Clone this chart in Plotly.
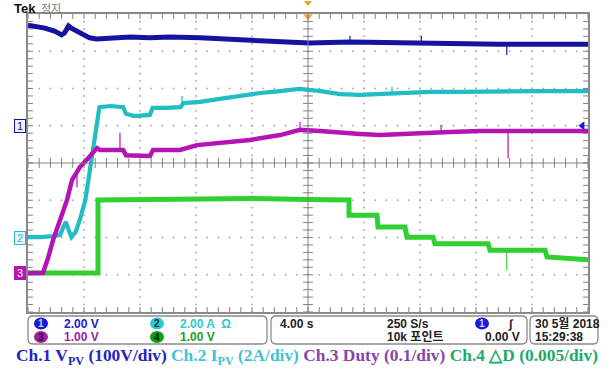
import numpy as np
import plotly.graph_objects as go

W, H = 615, 369

# ---- waveform readings: time in s (4 s/div, 40 s record), level in screen divisions ----
ch1_t = [0, 0.5, 1.2, 1.9, 2.4, 2.6, 2.9, 3.1, 3.7, 4.4, 4.9, 5.9, 7.3, 8.7, 10.1, 12.3, 13.7,
         15.1, 16.6, 18.0, 19.1, 20.1, 23.0, 26.6, 30.1, 33.7, 37.3, 40]
ch1_v = [3.70, 3.68, 3.62, 3.54, 3.44, 3.49, 3.68, 3.62, 3.49, 3.36, 3.33, 3.36, 3.38, 3.36,
         3.38, 3.36, 3.33, 3.30, 3.28, 3.25, 3.22, 3.22, 3.25, 3.22, 3.22, 3.19, 3.19, 3.19]
# glitches: time, trace level, spike tip
ch1_spk_t = [23.0, 28.1, 34.2]
ch1_spk_b = [3.25, 3.22, 3.19]
ch1_spk_v = [3.41, 3.41, 2.90]

ch2_t = [0, 0.9, 1.9, 2.3, 2.5, 2.7, 2.9, 3.1, 3.4, 3.7, 4.1, 4.4, 4.6, 4.9, 5.0, 5.1, 5.9,
         6.8, 7.0, 7.6, 8.7, 8.9, 9.8, 10.9, 11.1, 12.3, 13.7, 15.1, 16.6, 18.0, 19.4, 20.9,
         22.3, 23.7, 25.1, 26.6, 28.7, 30.9, 33.7, 36.6, 40]
ch2_v = [-1.99, -1.99, -1.96, -1.93, -1.74, -1.58, -1.80, -1.99, -1.85, -1.53, -0.99, -0.19,
         0.35, 1.02, 1.42, 1.50, 1.53, 1.50, 1.32, 1.26, 1.29, 1.48, 1.48, 1.50, 1.61, 1.64,
         1.72, 1.80, 1.88, 1.93, 1.99, 1.93, 1.85, 1.83, 1.85, 1.88, 1.91, 1.91, 1.93, 1.93,
         1.93]
ch2_spk_t = [11.0, 26.0]
ch2_spk_b = [1.55, 1.87]
ch2_spk_v = [1.80, 2.05]

ch3_t = [0, 1.07, 1.43, 1.79, 2.29, 2.79, 3.14, 3.71, 4.29, 4.93, 5.14, 6.79, 7.0, 8.71,
         8.93, 10.86, 12.07, 13.71, 15.86, 18.0, 19.43, 20.86, 22.29, 23.71, 25.14, 26.57,
         28.0, 30.14, 32.29, 35.14, 37.29, 40]
ch3_v = [-2.95, -2.95, -2.55, -2.07, -1.53, -0.99, -0.46, -0.11, 0.13, 0.40, 0.35, 0.35,
         0.21, 0.19, 0.35, 0.35, 0.48, 0.54, 0.62, 0.75, 0.89, 0.86, 0.81, 0.78, 0.75, 0.78,
         0.81, 0.83, 0.86, 0.86, 0.89, 0.86]
ch3_spk_t = [3.5, 6.57, 19.43, 29.5, 34.29]
ch3_spk_b = [-0.30, 0.35, 0.89, 0.82, 0.86]
ch3_spk_v = [-0.65, 0.81, 1.10, 1.02, 0.13]

ch4_t = [0, 5.0, 5.0, 12, 16, 20, 22.93, 22.93, 24.93, 25.0, 26.93, 27.07, 28.93, 29.07,
         32.86, 33.0, 36.93, 37.07, 40]
ch4_v = [-2.95, -2.95, -0.99, -0.97, -0.95, -0.98, -0.99, -1.40, -1.40, -1.72, -1.72, -1.99,
         -1.99, -2.17, -2.17, -2.34, -2.34, -2.52, -2.60]
ch4_spk_t = [34.2]
ch4_spk_b = [-2.34]
ch4_spk_v = [-2.87]

# ground reference markers (divisions) and trigger level
gnd_labels = ["1", "2", "3"]
gnd_levels = [1.0, -2.0, -2.95]
trig_level = 1.0

caption_parts = ["Ch.1 V<sub>PV</sub> (100V/div)", "Ch.2 I<sub>PV</sub> (2A/div)",
                 "Ch.3 Duty (0.1/div)", "Ch.4 \u25b3D (0.005/div)"]

C1, C2, C3, C4 = "#1414a0", "#22bcc4", "#b414b4", "#30d030"

# plot frame in pixels
L, R, T, B = 28, 588, 14, 312


def px(x):
    return x / W


def py(y):
    return 1 - y / H


fig = go.Figure()

# dotted graticule
gx, gy = [], []
for t in np.arange(4, 40, 4):
    if abs(t - 20) < 1e-9:
        continue
    ys = np.arange(-4, 4.001, 0.2)
    gx += [t] * len(ys)
    gy += list(ys)
for d in np.arange(-3, 4, 1):
    if d == 0:
        continue
    xs = np.arange(0, 40.001, 0.8)
    gx += list(xs)
    gy += [d] * len(xs)
fig.add_trace(go.Scatter(x=gx, y=gy, mode="markers", hoverinfo="skip",
                         marker=dict(size=2, color="#b0b0b0")))

# centre cross and tick marks
fig.add_shape(type="line", x0=0, x1=40, y0=0, y1=0, line=dict(color="#808080", width=1))
fig.add_shape(type="line", x0=20, x1=20, y0=-4, y1=4, line=dict(color="#808080", width=1))
tx = np.arange(0, 40.001, 0.8)
ty = np.arange(-4, 4.001, 0.2)
fig.add_trace(go.Scatter(x=list(tx) * 3, y=[0] * len(tx) + [4] * len(tx) + [-4] * len(tx),
                         mode="markers", hoverinfo="skip",
                         marker=dict(symbol="line-ns", size=7,
                                     line=dict(color="#808080", width=1))))
fig.add_trace(go.Scatter(x=[20] * len(ty) + [0] * len(ty) + [40] * len(ty), y=list(ty) * 3,
                         mode="markers", hoverinfo="skip",
                         marker=dict(symbol="line-ew", size=7,
                                     line=dict(color="#808080", width=1))))


def spikes(ts, bs, vs):
    xs, ys = [], []
    for t, b, v in zip(ts, bs, vs):
        xs += [t, t, None]
        ys += [b, v, None]
    return xs, ys


# waveforms
for t, v, st, sb, sv, c, w in [
        (ch4_t, ch4_v, ch4_spk_t, ch4_spk_b, ch4_spk_v, C4, 5),
        (ch2_t, ch2_v, ch2_spk_t, ch2_spk_b, ch2_spk_v, C2, 4.2),
        (ch3_t, ch3_v, ch3_spk_t, ch3_spk_b, ch3_spk_v, C3, 4.5),
        (ch1_t, ch1_v, ch1_spk_t, ch1_spk_b, ch1_spk_v, C1, 5)]:
    fig.add_trace(go.Scatter(x=t, y=v, mode="lines", hoverinfo="skip",
                             line=dict(color=c, width=w)))
    sx, sy = spikes(st, sb, sv)
    fig.add_trace(go.Scatter(x=sx, y=sy, mode="lines", hoverinfo="skip",
                             line=dict(color=c, width=1.2)))

# trigger level arrow and trigger position marker
fig.add_trace(go.Scatter(x=[39.6], y=[trig_level], mode="markers", hoverinfo="skip",
                         marker=dict(symbol="triangle-left", size=8, color="#1a1ad8")))
fig.add_trace(go.Scatter(x=[20], y=[3.93], mode="markers", hoverinfo="skip", cliponaxis=False,
                         marker=dict(symbol="triangle-down", size=8, color="#f0a030")))

fig.update_xaxes(range=[0, 40], domain=[px(L), px(R)], showgrid=False, zeroline=False,
                 showline=True, mirror=True, linecolor="#8a8a8a", linewidth=1.5,
                 showticklabels=False, ticks="")
fig.update_yaxes(range=[-4, 4], domain=[py(B), py(T)], showgrid=False, zeroline=False,
                 showline=True, mirror=True, linecolor="#8a8a8a", linewidth=1.5,
                 showticklabels=False, ticks="")

ann = []
shapes = []


def note(x, y, s, col, size, family="Liberation Sans, Noto Sans CJK KR", xa="left", **kw):
    ann.append(dict(x=px(x), y=py(y), xref="paper", yref="paper", xanchor=xa,
                    yanchor="middle", text=s, showarrow=False,
                    font=dict(size=size, color=col, family=family), **kw))


# ground markers on the left edge
gnd_cols = [C1, C2, C3]
yspan = (B - T) / 8.0
for lab, lv, c in zip(gnd_labels, gnd_levels, gnd_cols):
    yc = (T + B) / 2 - lv * yspan
    filled = lab == "3"
    note(19.5, yc, lab, "white" if filled else c, 11, xa="center",
         bgcolor=c if filled else "#eef3ff", bordercolor=c, borderwidth=1,
         width=10, height=12, borderpad=0)

# top status line
note(12, 8, "<b>Tek</b>", "#111", 13)
note(39, 8, "정지", "#777", 11, family="Noto Sans CJK KR")
shapes.append(dict(type="line", xref="paper", yref="paper", x0=px(61), x1=px(61),
                   y0=py(2), y1=py(T), line=dict(color="#8a8a8a", width=1.2)))
shapes.append(dict(type="line", xref="paper", yref="paper", x0=px(187), x1=px(428),
                   y0=py(7), y1=py(7), line=dict(color="#d4a0d4", width=2)))
shapes.append(dict(type="path", xref="paper", yref="paper",
                   path=f"M {px(304):.5f},{py(1):.5f} L {px(312):.5f},{py(1):.5f} "
                        f"L {px(308):.5f},{py(6):.5f} Z",
                   fillcolor="#f0a030", line=dict(width=0)))


def rbox(x0, y0, x1, y1, r=5):
    def P(a, b):
        return f"{px(a):.5f},{py(b):.5f}"
    p = (f"M {P(x0+r, y0)} L {P(x1-r, y0)} Q {P(x1, y0)} {P(x1, y0+r)} "
         f"L {P(x1, y1-r)} Q {P(x1, y1)} {P(x1-r, y1)} "
         f"L {P(x0+r, y1)} Q {P(x0, y1)} {P(x0, y1-r)} "
         f"L {P(x0, y0+r)} Q {P(x0, y0)} {P(x0+r, y0)} Z")
    return dict(type="path", xref="paper", yref="paper", path=p,
                line=dict(color="#8a8a8a", width=1.3), fillcolor="white")


shapes += [rbox(28, 316, 267, 344), rbox(271, 316, 527, 344), rbox(530, 316, 598, 344)]

r1, r2 = 323.5, 337


def badge(xc, yc, lab, fill, tcol):
    shapes.append(dict(type="circle", xref="paper", yref="paper", layer="above",
                       x0=px(xc - 7), x1=px(xc + 7), y0=py(yc - 6), y1=py(yc + 6),
                       fillcolor=fill, line=dict(width=0)))
    note(xc, yc, f"<b>{lab}</b>", tcol, 10, xa="center")


def txt(x, y, s, col, xa="left"):
    note(x, y, f"<b>{s}</b>", col, 12, xa=xa)


badge(41, r1, "1", "#1a1ad8", "#d0d0ff")
badge(41, r2, "3", "#a020a0", "#300030")
badge(157, r1, "2", "#30c8d0", "#103040")
badge(157, r2, "4", "#10a010", "#002000")
txt(62, r1, "2.00 V", "#2020d0")
txt(62, r2, "1.00 V", "#a020a0")
txt(178, r1, "2.00 A  \u03a9", "#30c8d0")
txt(178, r2, "1.00 V", "#20a020")
txt(278, r1, "4.00 s", "#222")
txt(385, r1, "250 S/s", "#222")
txt(385, r2, "10k 포인트", "#222")
badge(482, r1, "1", "#1a1ad8", "#d0d0ff")
txt(506, r1, "\u222b", "#222")
txt(522, r2, "0.00 V", "#222", xa="right")
txt(533, r1, "30 5월 2018", "#222")
txt(533, r2, "15:29:38", "#222")

# channel caption line, one run of text in four colours
cap_cols = ["#2424c0", "#40c4d4", "#8844aa", "#22aa66"]
cap = "\u00a0".join(f"<span style='color:{c}'>{s}</span>" for s, c in zip(caption_parts, cap_cols))
note(14, 356, f"<b>{cap}</b>", cap_cols[0], 17.4, family="Liberation Serif")

fig.update_layout(width=W, height=H, margin=dict(l=0, r=0, t=0, b=0),
                  paper_bgcolor="white", plot_bgcolor="white", showlegend=False,
                  annotations=ann, shapes=shapes)

fig.write_html("out.html")
